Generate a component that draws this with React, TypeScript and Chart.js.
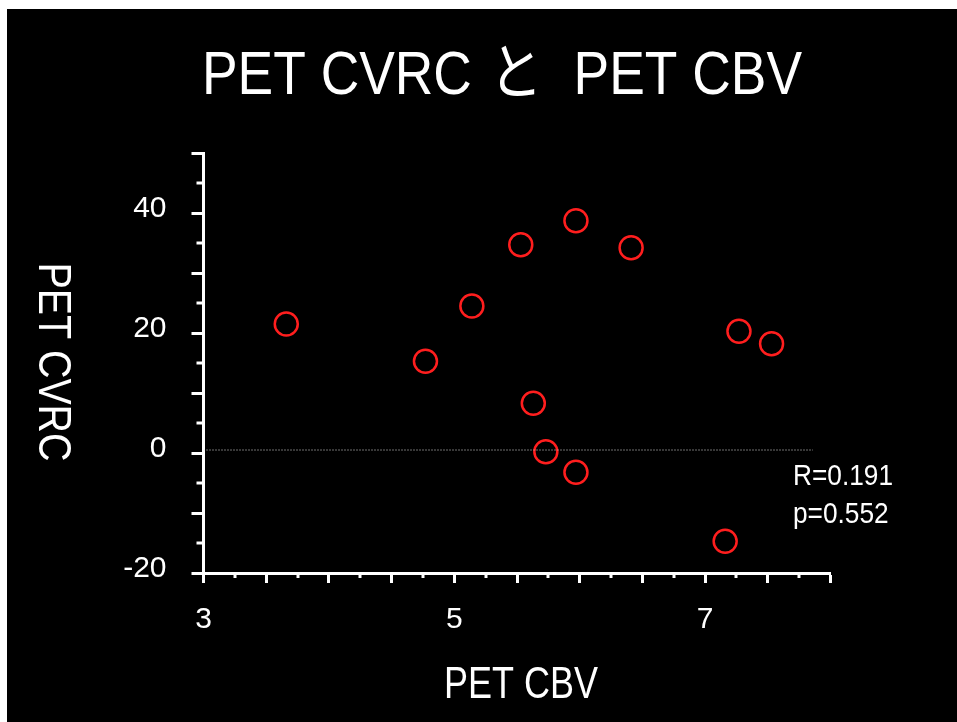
import { useEffect, useRef } from "react";
import { Chart, registerables } from "chart.js";

Chart.register(...registerables);

// ---- data ----
const cbvValues = [3.66, 4.77, 5.14, 5.53, 5.97, 6.41, 5.63, 5.73, 5.97, 7.27, 7.53, 7.16];
const cvrcValues = [21.5, 15.3, 24.5, 34.7, 38.7, 34.2, 8.3, 0.2, -3.2, 20.3, 18.2, -14.7];
const refLineX = [3, 7.86];
const refLineY = [0.5, 0.5];

const xMajorTicks = [3, 3.5, 4, 4.5, 5, 5.5, 6, 6.5, 7, 7.5, 8];
const xMinorTicks = [3.25, 3.75, 4.25, 4.75, 5.25, 5.75, 6.25, 6.75, 7.25, 7.75];
const xTickLabels = [3, 5, 7];
const yMajorTicks = [-20, -10, 0, 10, 20, 30, 40, 50];
const yMinorTicks = [-15, -5, 5, 15, 25, 35, 45];
const yTickLabels = [-20, 0, 20, 40];

const titleParts = ["PET CVRC", "と", "PET CBV"]; // "PET CVRC と PET CBV"
const xTitleText = "PET CBV";
const yTitleText = "PET CVRC";
const statsLines = ["R=0.191", "p=0.552"];

const FONT = '"Liberation Sans", Arial, "Noto Sans CJK JP", sans-serif';

function drawText(
  ctx: CanvasRenderingContext2D,
  text: string,
  x: number,
  y: number,
  size: number,
  sx: number,
  align: CanvasTextAlign,
  rot = 0
) {
  ctx.save();
  ctx.translate(x, y);
  if (rot) ctx.rotate(rot);
  ctx.scale(sx, 1);
  ctx.font = `${size}px ${FONT}`;
  ctx.fillStyle = "#ffffff";
  ctx.textAlign = align;
  ctx.textBaseline = "alphabetic";
  ctx.fillText(text, 0, 0);
  ctx.restore();
}

const decorPlugin = {
  id: "decor",
  afterDraw(chart: any) {
    const ctx: CanvasRenderingContext2D = chart.ctx;
    const xs = chart.scales.x;
    const ys = chart.scales.y;
    const area = chart.chartArea;
    ctx.save();
    ctx.strokeStyle = "#ffffff";
    ctx.lineWidth = 3;
    xMinorTicks.forEach((v) => {
      const px = Math.round(xs.getPixelForValue(v));
      ctx.beginPath();
      ctx.moveTo(px, area.bottom);
      ctx.lineTo(px, area.bottom + 5);
      ctx.stroke();
    });
    yMinorTicks.forEach((v) => {
      const py = Math.round(ys.getPixelForValue(v));
      ctx.beginPath();
      ctx.moveTo(area.left, py);
      ctx.lineTo(area.left - 7, py);
      ctx.stroke();
    });
    ctx.restore();

    drawText(ctx, titleParts[0], 195, 85, 61, 0.875, "left");
    drawText(ctx, titleParts[1], 509, 85, 61, 0.875, "center");
    drawText(ctx, titleParts[2], 795, 85, 61, 0.875, "right");
    drawText(ctx, xTitleText, 514, 689, 45, 0.8, "center");
    drawText(ctx, yTitleText, 32, 353, 46, 0.855, "center", Math.PI / 2);
    drawText(ctx, statsLines[0], 786, 476, 30, 0.875, "left");
    drawText(ctx, statsLines[1], 786, 514, 30, 0.875, "left");
  },
};

export default function App() {
  const ref = useRef<HTMLCanvasElement | null>(null);
  useEffect(() => {
    if (!ref.current) return;
    const chart = new Chart(ref.current, {
      type: "scatter",
      data: {
        datasets: [
          {
            type: "line",
            data: refLineX.map((x, i) => ({ x, y: refLineY[i] })),
            borderColor: "#dddddd",
            borderWidth: 1,
            borderDash: [1, 2],
            pointRadius: 0,
            fill: false,
          } as any,
          {
            data: cbvValues.map((x, i) => ({ x, y: cvrcValues[i] })),
            pointRadius: 11.5,
            pointHoverRadius: 11.5,
            pointBorderWidth: 2.5,
            borderColor: "#ff1e1e",
            backgroundColor: "rgba(0,0,0,0)",
          },
        ],
      },
      options: {
        animation: false,
        responsive: false,
        events: [],
        layout: { padding: { left: 0, right: 126.5, top: 144, bottom: 0 } },
        plugins: { legend: { display: false }, tooltip: { enabled: false }, title: { display: false } },
        scales: {
          x: {
            type: "linear",
            min: 3,
            max: 8,
            afterBuildTicks: (s: any) => {
              s.ticks = xMajorTicks.map((v) => ({ value: v }));
            },
            afterFit: (s: any) => {
              s.height = 149;
            },
            ticks: {
              autoSkip: false,
              maxRotation: 0,
              color: "#ffffff",
              font: { family: FONT, size: 30 },
              padding: 19,
              callback: (v: any) => (xTickLabels.includes(Number(v)) ? String(v) : ""),
            },
            grid: {
              drawOnChartArea: false,
              drawTicks: true,
              tickLength: 10,
              tickWidth: 3,
              tickColor: "#ffffff",
            },
            border: { display: true, color: "#ffffff", width: 3 },
          },
          y: {
            type: "linear",
            min: -20,
            max: 50,
            afterBuildTicks: (s: any) => {
              s.ticks = yMajorTicks.map((v) => ({ value: v }));
            },
            afterFit: (s: any) => {
              s.width = 196.5;
            },
            ticks: {
              autoSkip: false,
              color: "#ffffff",
              font: { family: FONT, size: 30 },
              padding: 25,
              labelOffset: -4,
              callback: (v: any) => (yTickLabels.includes(Number(v)) ? String(v) : ""),
            },
            grid: {
              drawOnChartArea: false,
              drawTicks: true,
              tickLength: 12,
              tickWidth: 3,
              tickColor: "#ffffff",
            },
            border: { display: true, color: "#ffffff", width: 3 },
          },
        },
      },
      plugins: [decorPlugin],
    });
    return () => chart.destroy();
  }, []);
  return (
    <div
      style={{
        position: "absolute",
        left: 7,
        top: 9,
        width: 950,
        height: 713,
        background: "#000000",
      }}
    >
      <canvas ref={ref} width={950} height={713} style={{ display: "block", width: 950, height: 713 }} />
    </div>
  );
}
